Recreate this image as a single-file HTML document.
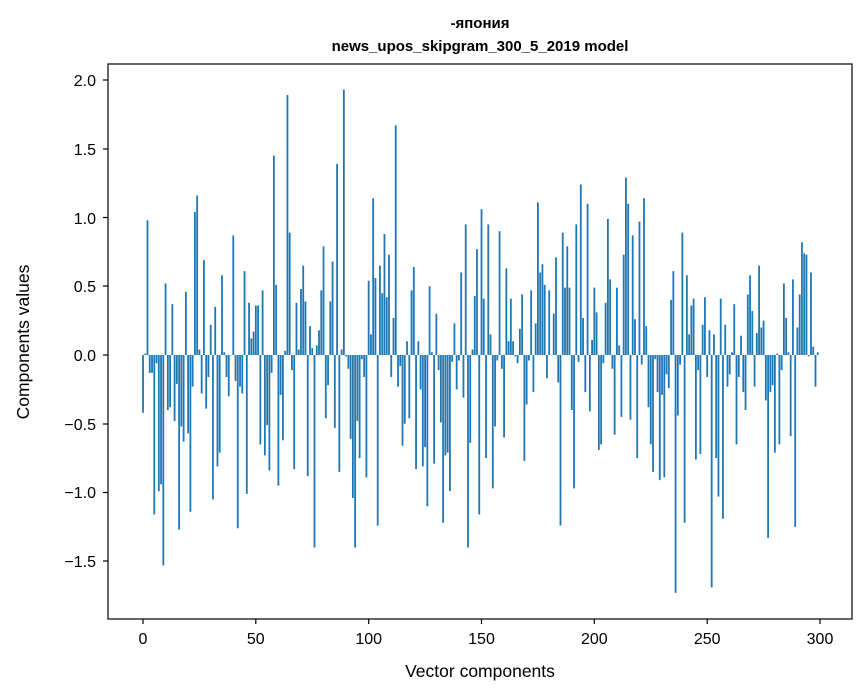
<!DOCTYPE html>
<html><head><meta charset="utf-8"><style>
body{margin:0;background:#fff;}
svg{display:block;font-family:"Liberation Sans","DejaVu Sans",sans-serif;}
</style></head><body>
<svg id="s" width="867" height="696" viewBox="0 0 867 696" xmlns="http://www.w3.org/2000/svg">
<rect width="867" height="696" fill="#fff"/>
<g id="bars" fill="#1f77b4"></g>
<rect x="108" y="64" width="744" height="555" fill="none" stroke="#000" stroke-width="1.2"/>
<g stroke="#000" stroke-width="1.2" id="ticks"></g>
<g font-size="16" fill="#000" text-anchor="end">
<text x="96" y="567">−1.5</text>
<text x="96" y="498">−1.0</text>
<text x="96" y="430">−0.5</text>
<text x="96" y="361">0.0</text>
<text x="96" y="292">0.5</text>
<text x="96" y="224">1.0</text>
<text x="96" y="155">1.5</text>
<text x="96" y="86">2.0</text>
</g>
<g font-size="16" fill="#000" text-anchor="middle">
<text x="143" y="644">0</text>
<text x="255.8" y="644">50</text>
<text x="368.7" y="644">100</text>
<text x="481.5" y="644">150</text>
<text x="594.3" y="644">200</text>
<text x="707.2" y="644">250</text>
<text x="820" y="644">300</text>
<text x="480" y="677" font-size="17.5">Vector components</text>
<text x="480" y="28" font-size="15" font-weight="bold">-япония</text>
<text x="480" y="51" font-size="15" font-weight="bold">news_upos_skipgram_300_5_2019 model</text>
<text transform="translate(29,342) rotate(-90)" font-size="17.5">Components values</text>
</g>
</svg>
<script>
var v=[-0.42,0.01,0.98,-0.13,-0.13,-1.16,-0.06,-0.99,-0.94,-1.53,0.52,-0.40,-0.38,0.37,-0.48,-0.21,-1.27,-0.52,-0.63,0.46,-0.57,-1.14,-0.23,1.04,1.16,0.04,-0.28,0.69,-0.39,-0.16,0.22,-1.05,0.35,-0.81,-0.71,0.58,0.02,-0.16,-0.30,0.0,0.87,-0.19,-1.26,-0.23,-0.28,0.61,-1.01,0.38,0.12,
0.17,0.36,0.36,-0.65,0.47,-0.73,-0.51,-0.84,-0.13,1.45,0.51,-0.95,-0.29,-0.62,0.03,1.89,0.89,-0.11,-0.83,0.38,0.04,0.48,0.65,0.39,-0.88,0.21,0.05,-1.40,0.07,0.18,0.47,0.79,-0.46,-0.22,0.39,0.68,-0.53,1.39,-0.85,0.04,1.93,-0.01,-0.10,-0.61,-1.04,-1.40,-0.48,-0.75,-0.03,-0.16,
-0.89,0.54,0.15,1.14,0.56,-1.24,0.65,0.45,0.88,0.42,0.73,-0.16,0.27,1.67,-0.23,-0.08,-0.66,-0.50,0.10,-0.46,0.47,0.64,-0.83,0.10,-0.25,-0.81,-0.67,-1.10,0.50,0.02,-0.79,0.30,-0.11,-0.49,-1.22,-0.73,-0.71,-0.99,-0.05,0.23,-0.25,-0.04,0.60,-0.31,0.95,-1.40,-0.64,0.04,0.43,0.77,
-1.16,1.06,0.41,-0.75,0.95,0.15,-0.97,-0.52,-0.04,0.90,-0.10,-0.60,0.63,0.10,0.41,0.10,-0.01,-0.06,0.19,0.44,-0.77,-0.36,-0.04,0.47,-0.27,0.23,1.11,0.60,0.66,0.51,-0.17,0.47,0.0,0.30,0.71,-0.20,-1.24,0.89,0.49,0.79,0.49,-0.40,-0.97,0.95,-0.05,1.24,0.27,-0.27,1.10,-0.41,0.11,
0.49,0.31,-0.69,-0.65,-0.06,0.38,0.99,0.55,-0.10,-0.58,0.49,0.07,-0.45,0.73,1.29,1.10,-0.47,0.87,0.26,-0.75,0.97,-0.07,1.14,0.21,-0.38,-0.65,-0.85,-0.03,-0.27,-0.91,-0.29,-0.89,-0.14,-0.24,0.40,0.61,-1.73,-0.44,-0.07,0.89,-1.22,0.58,0.15,0.36,0.41,-0.76,-0.11,-0.72,0.22,0.42,
-0.16,0.18,-1.69,0.15,-0.75,-1.03,0.41,-1.19,0.22,-0.23,-0.14,0.02,0.37,-0.65,-0.16,0.14,-0.27,-0.40,0.44,0.58,0.32,-0.23,0.16,0.65,0.20,0.25,-0.33,-1.33,-0.27,-0.22,-0.71,0.01,-0.65,-0.11,0.52,0.27,0.02,-0.59,0.55,-1.25,0.20,0.44,0.82,0.74,0.73,-0.01,0.60,0.06,-0.23,0.02];
var g=document.getElementById('bars'),ns='http://www.w3.org/2000/svg',h='';
for(var i=0;i<v.length;i++){var x=143+2.2567*i-0.9,y=v[i]>=0?355-v[i]*137.5:355,hh=Math.max(Math.abs(v[i])*137.5,0.3);
h+='<rect x="'+x.toFixed(2)+'" y="'+y.toFixed(2)+'" width="1.8" height="'+hh.toFixed(2)+'"/>';}
g.innerHTML=h;
var t='',ys=[561,492.5,424,355,286,217.5,149,80];
ys.forEach(function(y){t+='<line x1="103" x2="108" y1="'+y+'" y2="'+y+'"/>';});
[143,255.8,368.7,481.5,594.3,707.2,820].forEach(function(x){t+='<line x1="'+x+'" x2="'+x+'" y1="619" y2="624"/>';});
document.getElementById('ticks').innerHTML=t;
</script>
</body></html>
